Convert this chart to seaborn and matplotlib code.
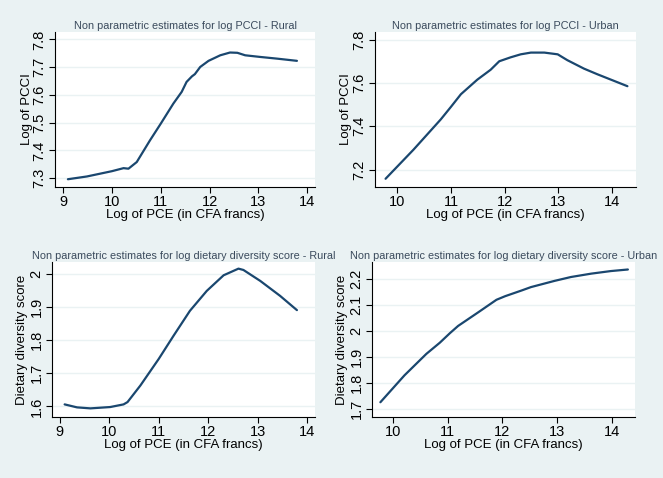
import matplotlib
matplotlib.use("Agg")
import matplotlib.pyplot as plt
import seaborn as sns
import pandas as pd

sns.set_theme(style="white")
plt.rcParams['font.family'] = ['Liberation Sans', 'DejaVu Sans']

# Panel 1: log PCCI - Rural
x_pcci_rural = [9.10, 9.49, 10.0, 10.24, 10.34, 10.51, 10.78, 11.0, 11.26, 11.43, 11.53,
                11.64, 11.70, 11.81, 11.98, 12.22, 12.42, 12.57, 12.73, 13.04, 13.38, 13.79]
y_pcci_rural = [7.296, 7.306, 7.325, 7.336, 7.334, 7.358, 7.436, 7.496, 7.569, 7.611, 7.647,
                7.667, 7.675, 7.701, 7.723, 7.743, 7.753, 7.752, 7.743, 7.737, 7.731, 7.723]

# Panel 2: log PCCI - Urban
x_pcci_urban = [9.78, 10.3, 10.81, 11.0, 11.185, 11.49, 11.74, 11.9, 12.11, 12.30, 12.49,
                12.74, 12.99, 13.17, 13.48, 13.73, 14.29]
y_pcci_urban = [7.158, 7.292, 7.432, 7.490, 7.548, 7.615, 7.661, 7.700, 7.718, 7.732, 7.740,
                7.740, 7.732, 7.705, 7.666, 7.640, 7.585]

# Panel 3: dietary diversity - Rural
x_dds_rural = [9.10, 9.35, 9.62, 10.02, 10.29, 10.37, 10.63, 11.0, 11.30, 11.63, 11.97,
               12.31, 12.61, 12.71, 13.05, 13.45, 13.79]
y_dds_rural = [1.606, 1.597, 1.594, 1.598, 1.606, 1.613, 1.663, 1.743, 1.813, 1.888, 1.948,
               1.995, 2.015, 2.011, 1.978, 1.933, 1.890]

# Panel 4: dietary diversity - Urban
x_dds_urban = [9.77, 10.21, 10.61, 10.855, 11.04, 11.19, 11.56, 11.89, 12.05, 12.35, 12.52,
               12.95, 13.25, 13.62, 13.98, 14.29]
y_dds_urban = [1.725, 1.829, 1.912, 1.955, 1.992, 2.020, 2.073, 2.121, 2.135, 2.157, 2.170,
               2.194, 2.209, 2.222, 2.232, 2.238]

titles = ["Non parametric estimates for log PCCI - Rural",
          "Non parametric estimates for log PCCI - Urban",
          "Non parametric estimates for log dietary diversity score - Rural",
          "Non parametric estimates for log dietary diversity score - Urban"]
ylabels = ["Log of PCCI", "Log of PCCI", "Dietary diversity score", "Dietary diversity score"]
xlabel = "Log of PCE (in CFA francs)"
yticks_list = [[7.3, 7.4, 7.5, 7.6, 7.7, 7.8], [7.2, 7.4, 7.6, 7.8],
               [1.6, 1.7, 1.8, 1.9, 2.0], [1.7, 1.8, 1.9, 2.0, 2.1, 2.2]]
yticklabels_list = [["7.3", "7.4", "7.5", "7.6", "7.7", "7.8"], ["7.2", "7.4", "7.6", "7.8"],
                    ["1.6", "1.7", "1.8", "1.9", "2"], ["1.7", "1.8", "1.9", "2", "2.1", "2.2"]]
xticks_list = [[9, 10, 11, 12, 13, 14], [10, 11, 12, 13, 14],
               [9, 10, 11, 12, 13, 14], [10, 11, 12, 13, 14]]

series = [(x_pcci_rural, y_pcci_rural), (x_pcci_urban, y_pcci_urban),
          (x_dds_rural, y_dds_rural), (x_dds_urban, y_dds_urban)]

W, H = 663, 478
# axes rectangles in pixels: left, right, top, bottom
rects = [(55, 315, 32, 187), (375, 636, 32, 187), (52, 315, 262, 417), (372, 635, 262, 417)]
xlims = [(8.836, 14.16), (9.583, 14.45), (8.845, 14.155), (9.617, 14.42)]
ylims = [(7.268, 7.827), (7.12, 7.835), (1.568, 2.035), (1.668, 2.267)]
ylabel_px = [28, 29, 30, 30]  # distance of y-label centre left of the axis

bg = "#EAF2F3"
navy = "#1A476F"
fig = plt.figure(figsize=(W / 100, H / 100), dpi=100, facecolor=bg)

for i in range(4):
    l, r, t, b = rects[i]
    ax = fig.add_axes([l / W, 1 - b / H, (r - l) / W, (b - t) / H])
    ax.set_facecolor("white")
    df = pd.DataFrame({"x": series[i][0], "y": series[i][1]})
    sns.lineplot(data=df, x="x", y="y", ax=ax, color=navy, linewidth=1.6)
    ax.set_xlim(*xlims[i])
    ax.set_ylim(*ylims[i])
    ax.set_xticks(xticks_list[i])
    ax.set_xticklabels([str(v) for v in xticks_list[i]], fontsize=10.5, color="black")
    ax.set_yticks(yticks_list[i])
    ax.set_yticklabels(yticklabels_list[i], fontsize=10.5, color="black",
                       rotation=90, va="center")
    ax.grid(axis="y", color=bg, linewidth=1.0)
    ax.grid(axis="x", visible=False)
    ax.set_axisbelow(True)
    for s in ["top", "right"]:
        ax.spines[s].set_visible(False)
    for s in ["left", "bottom"]:
        ax.spines[s].set_color("black")
        ax.spines[s].set_linewidth(0.8)
    ax.tick_params(axis="both", direction="out", length=4, width=0.8, color="black", pad=2,
                   left=True, bottom=True)
    ax.set_xlabel(xlabel, fontsize=9.5, color="black", labelpad=0)
    ax.set_ylabel(ylabels[i], fontsize=9.5, color="black", va="center")
    ax.yaxis.set_label_coords(-ylabel_px[i] / (r - l), 0.5)
    ax.set_title(titles[i], fontsize=7.8, color="#3A4A5C", pad=2)

fig.savefig("out.png", dpi=100, facecolor=bg)
